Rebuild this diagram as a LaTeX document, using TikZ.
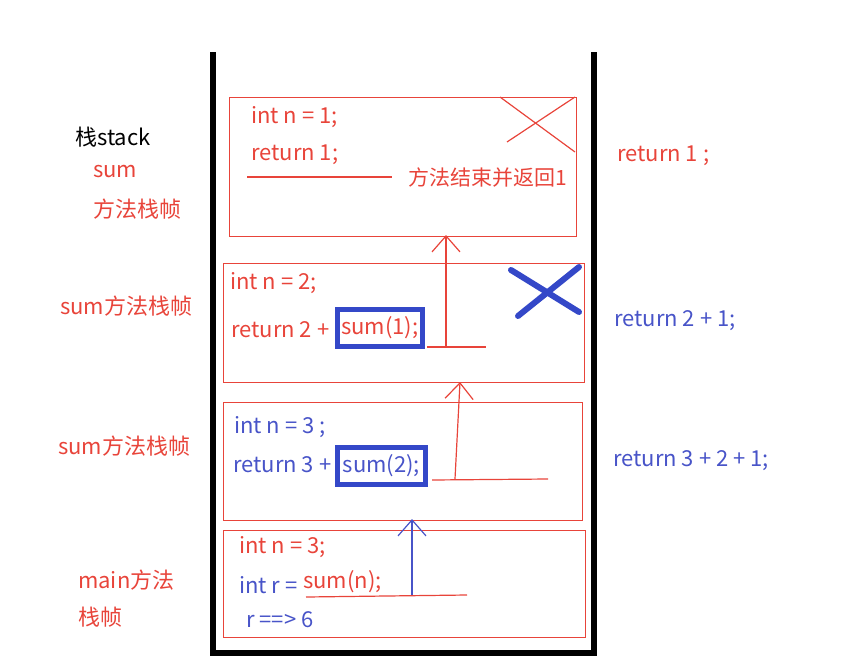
\documentclass[tikz,border=0pt]{standalone}
\usepackage{fontspec}
\setmainfont{Noto Sans CJK SC}
\usetikzlibrary{arrows.meta}
\definecolor{rd}{RGB}{232,68,58}
\definecolor{bl}{RGB}{72,84,200}
\definecolor{bbox}{RGB}{52,72,200}
\tikzset{
  frame/.style={draw=rd, line width=1.3pt},
  txt/.style={anchor=west, inner sep=0pt, font=\fontsize{22}{22}\selectfont},
  rtxt/.style={txt, text=rd},
  btxt/.style={txt, text=bl},
  hl/.style={draw=bbox, line width=4.5pt, inner xsep=4pt, inner ysep=0pt, minimum height=37pt},
  rline/.style={draw=rd, line width=1.2pt},
  barb/.style={-{Straight Barb[length=16pt,width=28pt]}},
  stackwall/.style={draw=black, line width=6pt}
}
\begin{document}
\begin{tikzpicture}[x=1pt,y=-1pt]
\useasboundingbox (0,0) rectangle (854,667);
% stack walls
\draw[stackwall] (213,52) -- (213,653) -- (594,653) -- (594,52);
% frames
\node[frame, minimum width=347pt, minimum height=139pt, inner sep=0pt, anchor=north west] (f1) at (229,97) {};
\node[frame, minimum width=361pt, minimum height=119pt, inner sep=0pt, anchor=north west] (f2) at (223,263) {};
\node[frame, minimum width=359pt, minimum height=118pt, inner sep=0pt, anchor=north west] (f3) at (223,402) {};
\node[frame, minimum width=362pt, minimum height=107pt, inner sep=0pt, anchor=north west] (f4) at (223,530) {};
% frame 1
\node[rtxt] (t11) at (251,117) {int n = 1;};
\node[rtxt] (t12) at (251,155) {return 1;};
\node[rtxt, font=\fontsize{21}{21}\selectfont] (t13) at (408,178) {方法结束并返回1};
\coordinate (l1a) at (247,177);
\coordinate (l1b) at (392,177);
\draw[rline] (l1a) -- (l1b);
\coordinate (x1a) at (500,97);
\coordinate (x1b) at (575,152);
\coordinate (x1c) at (507,142);
\coordinate (x1d) at (575,97);
\draw[rline] (x1a) -- (x1b);
\draw[rline] (x1c) -- (x1d);
% frame 2
\node[rtxt] (t21) at (230,283) {int n = 2;};
\node[rtxt] (t22) at (231,330) {return 2 +};
\node[rtxt, hl, anchor=west] (t23) at (335,328) {sum(1);};
\coordinate (l2a) at (427,347);
\coordinate (l2b) at (486,347);
\draw[rline] (l2a) -- (l2b);
\coordinate (a2s) at (446,347);
\coordinate (a2e) at (446,235);
\draw[rline, barb] (a2s) -- (a2e);
\coordinate (xb1) at (511,270);
\coordinate (xb2) at (579,312);
\coordinate (xb3) at (518,316);
\coordinate (xb4) at (579,267);
\draw[draw=bbox, line width=6pt, line cap=round] (xb1) -- (xb2);
\draw[draw=bbox, line width=6pt, line cap=round] (xb3) -- (xb4);
% frame 3
\node[btxt] (t31) at (234,427) {int n = 3 ;};
\node[btxt] (t32) at (233,465) {return 3 +};
\node[btxt, hl, anchor=west, inner xsep=5.5pt] (t33) at (335,466) {sum(2);};
\coordinate (l3a) at (432,480);
\coordinate (l3b) at (548,479);
\draw[rline] (l3a) -- (l3b);
\coordinate (a3s) at (455,479);
\coordinate (a3e) at (460,382);
\draw[rline, barb] (a3s) -- (a3e);
% frame 4
\node[rtxt] (t41) at (239,547) {int n = 3;};
\node[btxt] (t42) at (239,585) {int r =};
\node[rtxt] (t43) at (303,582) {sum(n);};
\node[btxt] (t44) at (246,620) {r ==> 6};
\coordinate (l4a) at (306,597);
\coordinate (l4b) at (467,595);
\draw[rline] (l4a) -- (l4b);
\coordinate (a4s) at (412,595);
\coordinate (a4e) at (412,519);
\draw[draw=bl, line width=1.2pt, barb] (a4s) -- (a4e);
% left labels
\node[txt] (s1) at (75,137) {栈stack};
\node[rtxt] (s2) at (93,172) {sum};
\node[rtxt] (s3) at (93,209) {方法栈帧};
\node[rtxt] (s4) at (60,306) {sum方法栈帧};
\node[rtxt] (s5) at (58,446) {sum方法栈帧};
\node[rtxt] (s6) at (78,580) {main方法};
\node[rtxt] (s7) at (78,617) {栈帧};
% right labels
\node[rtxt] (r1) at (617,156) {return 1 ;};
\node[btxt] (r2) at (614,321) {return 2 + 1;};
\node[btxt] (r3) at (613,461) {return 3 + 2 + 1;};
\end{tikzpicture}
\end{document}
